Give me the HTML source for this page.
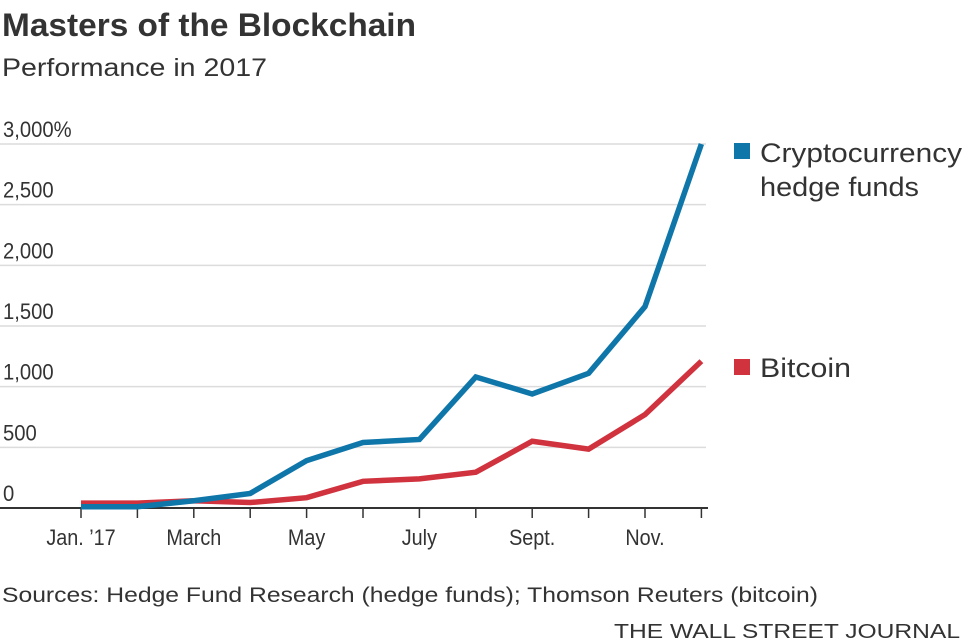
<!DOCTYPE html>
<html><head><meta charset="utf-8"><style>
html,body{margin:0;padding:0;background:#fff;}
svg{display:block;font-family:"Liberation Sans",sans-serif;}
</style></head><body>
<svg id="chart" width="968" height="644" viewBox="0 0 968 644">
<text x="2" y="36" font-size="32" font-weight="bold" fill="#333" textLength="414" lengthAdjust="spacingAndGlyphs">Masters of the Blockchain</text>
<text x="2" y="76" font-size="25" fill="#333" textLength="265" lengthAdjust="spacingAndGlyphs">Performance in 2017</text>
<g id="grid"></g>
<g id="xaxis"></g>
<g id="series"></g>
<g>
<rect x="734" y="143" width="16" height="16" fill="#0f76aa"/>
<text x="760" y="162" font-size="27" fill="#333" textLength="202" lengthAdjust="spacingAndGlyphs">Cryptocurrency</text>
<text x="760" y="196" font-size="27" fill="#333" textLength="159" lengthAdjust="spacingAndGlyphs">hedge funds</text>
<rect x="734" y="359" width="16" height="16" fill="#d0323e"/>
<text x="760" y="377" font-size="27" fill="#333" textLength="91" lengthAdjust="spacingAndGlyphs">Bitcoin</text>
</g>
<text x="2" y="602" font-size="21" fill="#333" textLength="816" lengthAdjust="spacingAndGlyphs">Sources: Hedge Fund Research (hedge funds); Thomson Reuters (bitcoin)</text>
<text x="960" y="638" font-size="20" fill="#333" text-anchor="end" textLength="346" lengthAdjust="spacingAndGlyphs">THE WALL STREET JOURNAL</text>
</svg>
<script>
const months = ["Jan","Feb","Mar","Apr","May","Jun","Jul","Aug","Sep","Oct","Nov","Dec"];
const monthLabels = ["Jan. ’17","","March","","May","","July","","Sept.","","Nov.",""];
const hedgeFunds = [10,10,60,120,390,540,565,1080,940,1110,1660,3000];
const bitcoin = [40,40,60,45,85,220,240,295,550,485,770,1210];
const yTicks = [0,500,1000,1500,2000,2500,3000];
const yTickLabels = ["0","500","1,000","1,500","2,000","2,500","3,000%"];

const NS="http://www.w3.org/2000/svg";
const x = i => 81 + i*56.4;
const y = v => 508 - v*(364/3000);
function mk(tag, attrs, parent){const e=document.createElementNS(NS,tag);for(const k in attrs)e.setAttribute(k,attrs[k]);parent.appendChild(e);return e;}

const grid=document.getElementById('grid');
yTicks.forEach((t,i)=>{
  if(t!==0){
    const l=mk('line',{x1:0,x2:706,y1:y(t),y2:y(t),stroke:'#dcdcdc','stroke-width':1.5},grid);
    
    
  }
  const tx=mk('text',{x:3,y:y(t)-7,'font-size':22,fill:'#333',transform:'translate(3,0) scale(0.92,1) translate(-3,0)'},grid);
  tx.textContent=yTickLabels[i];
  
  
});

const xa=document.getElementById('xaxis');
months.forEach((m,i)=>{
  const tk=mk('line',{x1:x(i),x2:x(i),y1:508,y2:518,stroke:'#333','stroke-width':1.5},xa);
  
  
  if(monthLabels[i]){
    const tx=mk('text',{x:x(i),y:545,'font-size':22,fill:'#333','text-anchor':'middle',transform:'translate('+x(i)+',0) scale(0.9,1) translate('+(-x(i))+',0)'},xa);
    tx.textContent=monthLabels[i];
    
    
  }
});
const base=mk('line',{x1:0,x2:708,y1:508,y2:508,stroke:'#333','stroke-width':2},xa);



const sg=document.getElementById('series');
function line(vals,color,name){
  const p=mk('polyline',{points:vals.map((v,i)=>x(i)+','+y(v)).join(' '),fill:'none',stroke:color,'stroke-width':5.5,'stroke-linejoin':'miter'},sg);
  
  
}
line(bitcoin,'#d0323e','bitcoin-line');
line(hedgeFunds,'#0f76aa','hedge-funds-line');
</script>
</body></html>
